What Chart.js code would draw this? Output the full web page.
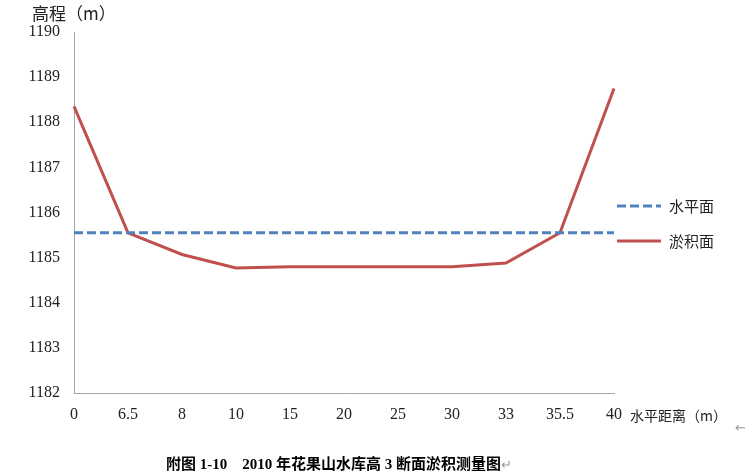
<!DOCTYPE html>
<html>
<head>
<meta charset="utf-8">
<script src="https://cdn.jsdelivr.net/npm/chart.js@4/dist/chart.umd.min.js"></script>
<style>
  html, body { margin: 0; padding: 0; background: #fff; }
  #wrap { position: relative; width: 746px; height: 474px; overflow: hidden; }
  #chart { position: absolute; left: 0; top: 0; }
  .lbl { position: absolute; white-space: nowrap; color: #222; }
  .cjk { font-family: "Noto Sans CJK SC", sans-serif; font-size: 15px; }
  #ytitle { left: 32px; top: 0px; font-size: 17px; }
  #xtitle { left: 630px; top: 405px; font-size: 14px; }
  #caption { left: 166px; top: 452px; font-family: "Liberation Serif", "Noto Sans CJK SC", serif; font-weight: bold; font-size: 15px; color: #000; }
  #caption .ret { font-weight: normal; color: #999; font-size: 13px; }
  #arrow { left: 735px; top: 420px; color: #999; font-size: 13px; font-family: "DejaVu Sans", sans-serif; }
  .leg { position: absolute; left: 617px; height: 20px; }
  .leg svg { position: absolute; left: 0; top: 0; }
  .leg span { position: absolute; left: 52px; top: -1px; }
</style>
</head>
<body>
<div id="wrap">
  <canvas id="chart" width="746" height="474"></canvas>
  <div id="ytitle" class="lbl cjk">高程（m）</div>
  <div id="xtitle" class="lbl cjk">水平距离（m）</div>
  <div class="leg" style="top:196px;">
    <svg width="48" height="20"><line x1="0" y1="10" x2="44" y2="10" stroke="#4F81BD" stroke-width="3" stroke-dasharray="9,4"/></svg>
    <span class="lbl cjk">水平面</span>
  </div>
  <div class="leg" style="top:231px;">
    <svg width="48" height="20"><line x1="0" y1="10" x2="44" y2="10" stroke="#C0504D" stroke-width="3"/></svg>
    <span class="lbl cjk">淤积面</span>
  </div>
  <div id="caption" class="lbl">附图 1-10&nbsp;&nbsp;&nbsp; 2010 年花果山水库高 3 断面淤积测量图<span class="ret">↵</span></div>
  <div id="arrow" class="lbl">←</div>
</div>
<script>
// horizontal distance (m)
var categories = ['0', '6.5', '8', '10', '15', '20', '25', '30', '33', '35.5', '40'];
// elevation (m)
var waterLevel = [1185.55, 1185.55, 1185.55, 1185.55, 1185.55, 1185.55, 1185.55, 1185.55, 1185.55, 1185.55, 1185.55];
var sediment = [1188.35, 1185.55, 1185.07, 1184.77, 1184.8, 1184.8, 1184.8, 1184.8, 1184.88, 1185.55, 1188.75];
var yMin = 1182, yMax = 1190, yStep = 1;

var tickFont = { family: "'Liberation Serif', serif", size: 16 };

new Chart(document.getElementById('chart'), {
  type: 'line',
  data: {
    labels: categories,
    datasets: [
      {
        label: '水平面',
        data: waterLevel,
        borderColor: '#4F81BD',
        borderWidth: 3,
        borderDash: [9, 4],
        pointRadius: 0,
        tension: 0,
        fill: false
      },
      {
        label: '淤积面',
        data: sediment,
        borderColor: '#C0504D',
        borderWidth: 3,
        pointRadius: 0,
        tension: 0,
        fill: false
      }
    ]
  },
  options: {
    responsive: false,
    animation: false,
    layout: { padding: { top: 32, right: 132, bottom: 0, left: 0 } },
    plugins: { legend: { display: false }, tooltip: { enabled: false } },
    scales: {
      x: {
        offset: false,
        grid: { display: false, drawTicks: false },
        border: { display: true, color: '#a6a6a6', width: 1 },
        ticks: { color: '#222', font: tickFont, padding: 12, maxRotation: 0, autoSkip: false },
        afterFit: function (scale) { scale.height = 81; }
      },
      y: {
        min: yMin,
        max: yMax,
        grid: { display: false, drawTicks: false },
        border: { display: true, color: '#a6a6a6', width: 1 },
        ticks: {
          stepSize: yStep, color: '#222', font: tickFont, padding: 14,
          callback: function (v) { return String(v); }
        },
        afterFit: function (scale) { scale.width = 74; }
      }
    }
  }
});
</script>
</body>
</html>
